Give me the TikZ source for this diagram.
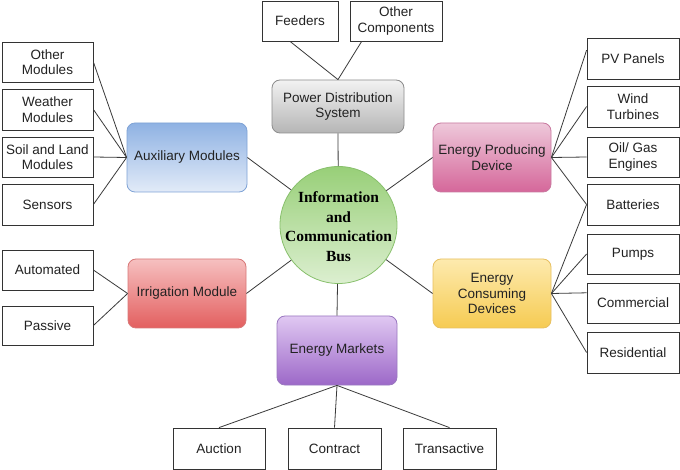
\documentclass[tikz,border=0pt]{standalone}
\usepackage{fontspec}
\setmainfont{Liberation Sans}
\newfontfamily\hubfont{Liberation Serif}
\usetikzlibrary{calc}
\definecolor{txt}{HTML}{222222}
\definecolor{leafline}{HTML}{333333}
\definecolor{linkc}{HTML}{3A3A3A}
\definecolor{auxT}{HTML}{8FB2E3}\definecolor{auxB}{HTML}{E2EBF8}\definecolor{auxD}{HTML}{7FA3D6}
\definecolor{epdT}{HTML}{EEC8DA}\definecolor{epdB}{HTML}{D5679A}\definecolor{epdD}{HTML}{C97AA0}
\definecolor{irrT}{HTML}{F6C0C0}\definecolor{irrB}{HTML}{E35F5F}\definecolor{irrD}{HTML}{D87878}
\definecolor{ecdT}{HTML}{FDEAAE}\definecolor{ecdB}{HTML}{F6CB52}\definecolor{ecdD}{HTML}{E8C060}
\definecolor{emT}{HTML}{E0C8F2}\definecolor{emB}{HTML}{9C68C8}\definecolor{emD}{HTML}{9A78C0}
\definecolor{pdsT}{HTML}{F2F2F2}\definecolor{pdsB}{HTML}{B5B5B5}\definecolor{pdsD}{HTML}{8C8C8C}
\definecolor{hubT}{HTML}{98CF78}\definecolor{hubB}{HTML}{DCEFD0}\definecolor{hubD}{HTML}{88C06C}
\begin{document}
\begin{tikzpicture}[x=1pt,y=-1pt,
  leaf/.style={draw=leafline, line width=0.8pt, fill=white, minimum width=92pt, minimum height=40pt,
    align=center, inner sep=1pt, font=\fontsize{13.5}{15.5}\selectfont, text=txt},
  cat/.style={rounded corners=8pt, line width=0.8pt, minimum width=119pt, minimum height=69pt,
    align=center, inner sep=1pt, font=\fontsize{13.5}{15.5}\selectfont, text=txt},
  link/.style={draw=linkc, line width=0.8pt}]
\useasboundingbox[fill=white] (0,0) rectangle (680,470);
% hub
\node[circle, minimum size=117pt, inner sep=0pt, top color=hubT, bottom color=hubB, draw=hubD, line width=0.8pt] (hub) at (338.5,225) {};
\node[align=center, inner sep=0pt, font=\hubfont\bfseries\fontsize{15.5}{19.7}\selectfont] (hubtext) at (338.5,226.5)
  {Information\\and\\Communication\\Bus};
% categories
\node[cat, minimum width=132pt, minimum height=53pt, top color=pdsT, bottom color=pdsB, draw=pdsD] (pds) at (338,106.5) {Power Distribution\\System};
\node[cat, minimum width=120pt, top color=auxT, bottom color=auxB, draw=auxD] (aux) at (187,157.5) {Auxiliary Modules};
\node[cat, minimum width=118pt, top color=epdT, bottom color=epdB, draw=epdD] (epd) at (492,157.5) {Energy Producing\\Device};
\node[cat, minimum width=118pt, top color=irrT, bottom color=irrB, draw=irrD] (irr) at (187,293.5) {Irrigation Module};
\node[cat, minimum width=118pt, top color=ecdT, bottom color=ecdB, draw=ecdD] (ecd) at (492,293.5) {Energy\\Consuming\\Devices};
\node[cat, minimum width=120pt, top color=emT, bottom color=emB, draw=emD] (em) at (337,350.5) {Energy Markets};
% top leaves
\node[leaf, minimum width=76pt] (feed) at (300,21) {Feeders};
\node[leaf] (othc) at (396,21) {Other\\Components};
% left leaves
\node[leaf, minimum width=91pt] (othm) at (47.5,62) {Other\\Modules};
\node[leaf, minimum width=91pt, minimum height=41pt] (wea) at (47.5,109.5) {Weather\\Modules};
\node[leaf, minimum width=91pt] (soil) at (47.5,157) {Soil and Land\\Modules};
\node[leaf, minimum width=91pt, minimum height=41pt] (sens) at (47.5,204.5) {Sensors};
\node[leaf, minimum width=91pt] (auto) at (47.5,270) {Automated};
\node[leaf, minimum width=91pt, minimum height=39pt] (pass) at (47.5,325.5) {Passive};
% right leaves
\node[leaf, minimum height=41pt] (pv) at (633,58.5) {PV Panels};
\node[leaf, minimum height=41pt] (wind) at (633,106.5) {Wind\\Turbines};
\node[leaf] (oil) at (633,157) {Oil/ Gas\\Engines};
\node[leaf, minimum height=41pt] (bat) at (633,204.5) {Batteries};
\node[leaf] (pump) at (633,254) {Pumps};
\node[leaf] (com) at (633,303) {Commercial};
\node[leaf, minimum height=41pt] (res) at (633,352.5) {Residential};
% bottom leaves
\node[leaf, minimum height=41pt] (auc) at (219,448.5) {Auction};
\node[leaf, minimum width=93pt, minimum height=41pt] (con) at (334.5,448.5) {Contract};
\node[leaf, minimum width=93pt, minimum height=41pt] (tra) at (449.5,448.5) {Transactive};
% hub links
\draw[link] (pds.south) -- (hub);
\draw[link] (em.north) -- (hub);
\draw[link] (aux.east) -- (hub);
\draw[link] (irr.east) -- (hub);
\draw[link] (epd.west) -- (hub);
\draw[link] (ecd.west) -- (hub);
% leaf links
\draw[link] ($(feed.south west)!0.37!(feed.south east)$) -- (pds.north);
\draw[link] ($(othc.south west)!0.13!(othc.south east)$) -- (pds.north);
\foreach \n in {othm,wea,soil,sens} \draw[link] (\n.east) -- (aux.west);
\foreach \n in {auto,pass} \draw[link] (\n.east) -- (irr.west);
\draw[link] (epd.east) -- ($(pv.north west)!0.3!(pv.south west)$);
\foreach \n in {wind,oil,bat} \draw[link] (epd.east) -- (\n.west);
\draw[link] (ecd.east) -- (bat.west);
\draw[link] (ecd.east) -- (pump.west);
\draw[link] (ecd.east) -- ($(com.north west)!0.25!(com.south west)$);
\draw[link] (ecd.east) -- (res.west);
\foreach \n in {auc,con,tra} \draw[link] (em.south) -- (\n.north);
\end{tikzpicture}
\end{document}
